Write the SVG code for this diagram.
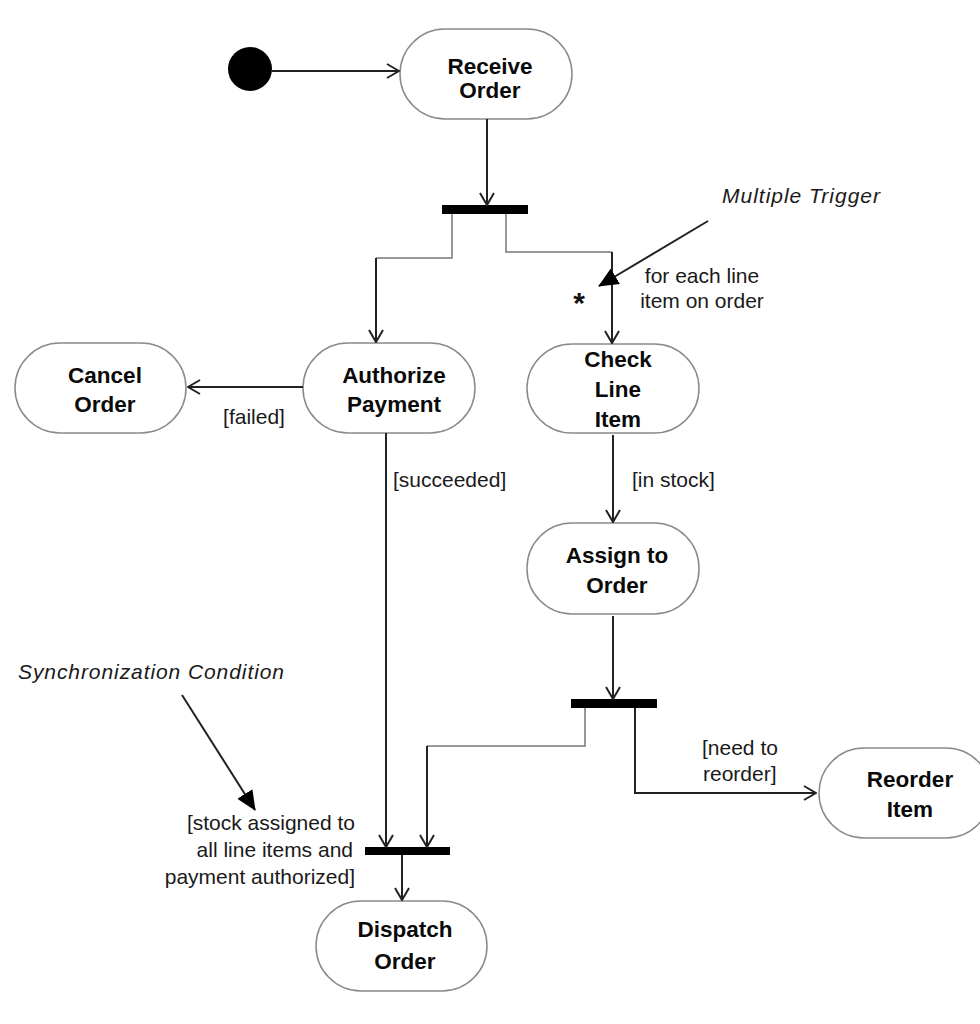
<svg xmlns="http://www.w3.org/2000/svg" width="980" height="1024" viewBox="0 0 980 1024">
<style>
.node{fill:#fff;stroke:#8a8a8a;stroke-width:1.5}
.nt{font-family:"Liberation Sans",Arial,sans-serif;font-weight:bold;font-size:22.5px;fill:#0a0a0a;text-anchor:middle}
.lb{font-family:"Liberation Sans",Arial,sans-serif;font-size:21px;fill:#1a1a1a}
.it{font-family:"Liberation Sans",Arial,sans-serif;font-style:italic;font-size:21px;fill:#1a1a1a}
.c{fill:none;stroke:#222;stroke-width:2}
.cg{fill:none;stroke:#777;stroke-width:1.5}
.bar{fill:#000}
</style>
<defs>
<marker id="open" viewBox="0 0 14 16" refX="13" refY="8" markerWidth="14" markerHeight="16" markerUnits="userSpaceOnUse" orient="auto">
<path d="M1,1 L13,8 L1,15" fill="none" stroke="#222" stroke-width="2"/>
</marker>
<marker id="solid" viewBox="0 0 20 18" refX="19" refY="9" markerWidth="20" markerHeight="18" markerUnits="userSpaceOnUse" orient="auto">
<path d="M0,0 L20,9 L0,18 Z" fill="#000"/>
</marker>
</defs>

<g id="initial"><circle cx="250" cy="69" r="22" fill="#000"/></g>

<g id="receive-order">
<rect class="node" x="400" y="29" width="172" height="90" rx="45" ry="45"/>
<text class="nt" x="490" y="74">Receive</text>
<text class="nt" x="490" y="98">Order</text>
</g>

<g id="fork1"><rect class="bar" x="442" y="205" width="86" height="9"/></g>

<g id="cancel-order">
<rect class="node" x="15" y="343" width="171" height="90" rx="45" ry="45"/>
<text class="nt" x="105" y="383">Cancel</text>
<text class="nt" x="105" y="412">Order</text>
</g>

<g id="authorize-payment">
<rect class="node" x="303" y="343" width="172" height="90" rx="45" ry="45"/>
<text class="nt" x="394" y="383">Authorize</text>
<text class="nt" x="394" y="412">Payment</text>
</g>

<g id="check-line-item">
<rect class="node" x="527" y="344" width="172" height="89" rx="45" ry="45"/>
<text class="nt" x="618" y="367">Check</text>
<text class="nt" x="618" y="397">Line</text>
<text class="nt" x="618" y="427">Item</text>
</g>

<g id="assign-to-order">
<rect class="node" x="527" y="523" width="172" height="91" rx="45" ry="45"/>
<text class="nt" x="617" y="563">Assign to</text>
<text class="nt" x="617" y="593">Order</text>
</g>

<g id="fork2"><rect class="bar" x="571" y="699" width="86" height="9"/></g>

<g id="reorder-item">
<rect class="node" x="819" y="748" width="172" height="90" rx="45" ry="45"/>
<text class="nt" x="910" y="787">Reorder</text>
<text class="nt" x="910" y="817">Item</text>
</g>

<g id="join"><rect class="bar" x="365" y="847" width="85" height="8"/></g>

<g id="dispatch-order">
<rect class="node" x="316" y="901" width="171" height="90" rx="45" ry="45"/>
<text class="nt" x="405" y="937">Dispatch</text>
<text class="nt" x="405" y="969">Order</text>
</g>

<g id="connectors">
<line class="c" x1="272" y1="71" x2="399" y2="71" marker-end="url(#open)"/>
<line class="c" x1="487" y1="119" x2="487" y2="205" marker-end="url(#open)"/>
<path class="cg" d="M452,214 V258 H376"/>
<line class="c" x1="376" y1="258" x2="376" y2="342" marker-end="url(#open)"/>
<path class="cg" d="M506,214 V252 H612"/>
<line class="c" x1="612" y1="252" x2="612" y2="343" marker-end="url(#open)"/>
<line class="c" x1="303" y1="387" x2="188" y2="387" marker-end="url(#open)"/>
<line class="c" x1="386" y1="433" x2="386" y2="847" marker-end="url(#open)"/>
<line class="c" x1="613" y1="435" x2="613" y2="522" marker-end="url(#open)"/>
<line class="c" x1="613" y1="616" x2="613" y2="699" marker-end="url(#open)"/>
<path class="cg" d="M585,708 V746 H427"/>
<line class="c" x1="427" y1="746" x2="427" y2="847" marker-end="url(#open)"/>
<path class="c" d="M635,708 V793 H816" marker-end="url(#open)"/>
<line class="c" x1="402" y1="855" x2="402" y2="900" marker-end="url(#open)"/>
<line class="c" x1="708" y1="221" x2="599" y2="286" marker-end="url(#solid)"/>
<line class="c" x1="182" y1="695" x2="255" y2="810" marker-end="url(#solid)"/>
</g>

<g id="labels">
<text class="it" x="722" y="203" textLength="158" lengthAdjust="spacing">Multiple Trigger</text>
<text class="lb" x="702" y="283" text-anchor="middle">for each line</text>
<text class="lb" x="702" y="308" text-anchor="middle">item on order</text>
<text x="579" y="313" font-family="Liberation Sans,Arial,sans-serif" font-weight="bold" font-size="30" text-anchor="middle" fill="#111">*</text>
<text class="lb" x="254" y="424" text-anchor="middle">[failed]</text>
<text class="lb" x="393" y="487">[succeeded]</text>
<text class="lb" x="632" y="487">[in stock]</text>
<text class="lb" x="702" y="755">[need to</text>
<text class="lb" x="703" y="781">reorder]</text>
<text class="it" x="18" y="679" textLength="266" lengthAdjust="spacing">Synchronization Condition</text>
<text class="lb" x="355" y="830" text-anchor="end">[stock assigned to</text>
<text class="lb" x="353" y="857" text-anchor="end">all line items and</text>
<text class="lb" x="355" y="884" text-anchor="end">payment authorized]</text>
</g>
</svg>
